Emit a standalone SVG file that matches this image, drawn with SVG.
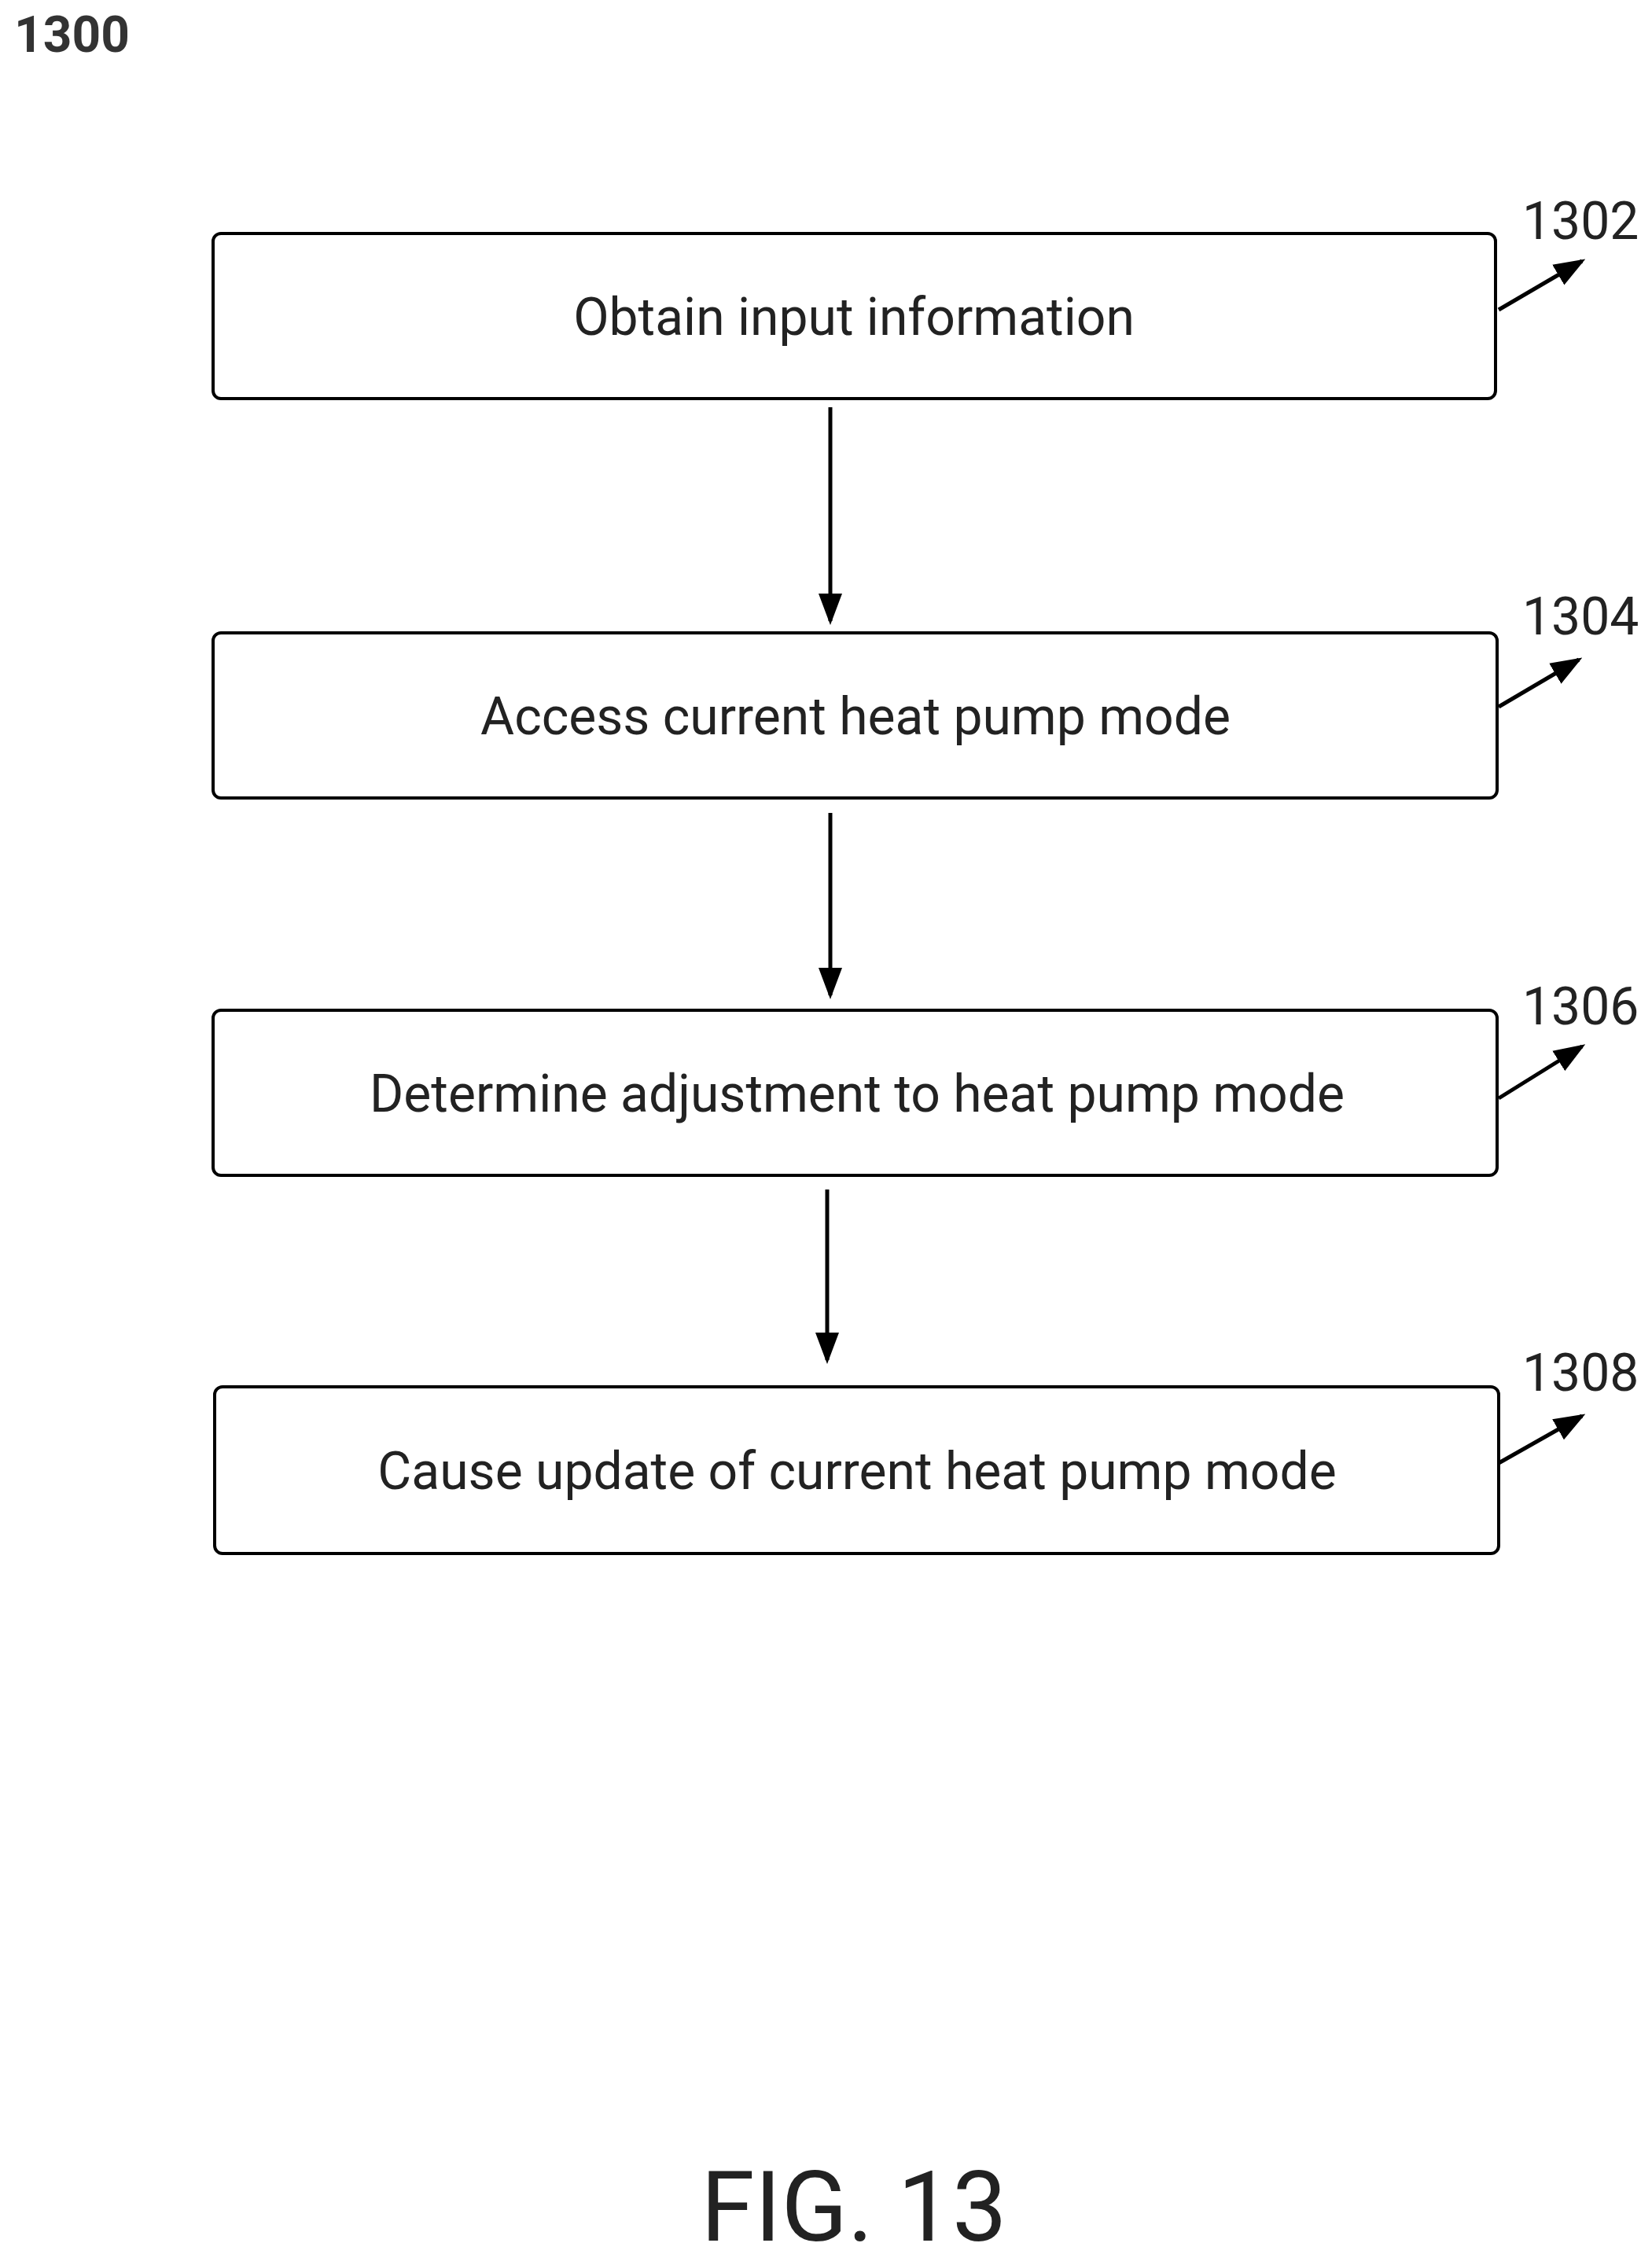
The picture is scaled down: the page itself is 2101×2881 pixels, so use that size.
<svg xmlns="http://www.w3.org/2000/svg" width="2101" height="2881" viewBox="0 0 2101 2881">
<style>
.box{fill:#fff;stroke:#000;stroke-width:4}
.t{font-family:Roboto,"Liberation Sans",sans-serif;font-size:66px;fill:#222;text-anchor:middle}
.ref{font-family:Roboto,"Liberation Sans",sans-serif;font-size:66px;fill:#222}
.c{stroke:#000;stroke-width:5;fill:none}
</style>
<defs>
<marker id="ah" markerWidth="8" markerHeight="8" refX="7" refY="4" orient="auto" markerUnits="strokeWidth"><path d="M0,1 L8,4 L0,7 Z" fill="#000"/></marker>
</defs>
<rect width="2101" height="2881" fill="#fff"/>
<text x="18" y="66" font-family="Roboto,'Liberation Sans',sans-serif" font-size="64" font-weight="bold" fill="#333">1300</text>
<g id="n1302"><rect class="box" x="271" y="297" width="1631" height="210" rx="10"/><text class="t" x="1086" y="426">Obtain input information</text><text class="ref" x="1936" y="304">1302</text></g>
<g id="n1304"><rect class="box" x="271" y="805" width="1633" height="210" rx="10"/><text class="t" x="1088" y="934">Access current heat pump mode</text><text class="ref" x="1936" y="807">1304</text></g>
<g id="n1306"><rect class="box" x="271" y="1285" width="1633" height="210" rx="10"/><text class="t" x="1090" y="1414">Determine adjustment to heat pump mode</text><text class="ref" x="1936" y="1303">1306</text></g>
<g id="n1308"><rect class="box" x="273" y="1764" width="1633" height="212" rx="10"/><text class="t" x="1090" y="1894">Cause update of current heat pump mode</text><text class="ref" x="1936" y="1769">1308</text></g>
<g id="connectors">
<line class="c" x1="1056" y1="518" x2="1056" y2="790" marker-end="url(#ah)"/>
<line class="c" x1="1056" y1="1034" x2="1056" y2="1266" marker-end="url(#ah)"/>
<line class="c" x1="1052" y1="1513" x2="1052" y2="1730" marker-end="url(#ah)"/>
<line class="c" x1="1906" y1="394" x2="2012" y2="332" marker-end="url(#ah)"/>
<line class="c" x1="1906" y1="899" x2="2008" y2="839" marker-end="url(#ah)"/>
<line class="c" x1="1906" y1="1397" x2="2012" y2="1331" marker-end="url(#ah)"/>
<line class="c" x1="1906" y1="1861" x2="2012" y2="1801" marker-end="url(#ah)"/>
</g>
<text x="1086" y="2850" font-family="Roboto,'Liberation Sans',sans-serif" font-size="124" fill="#222" text-anchor="middle">FIG. 13</text>
</svg>
